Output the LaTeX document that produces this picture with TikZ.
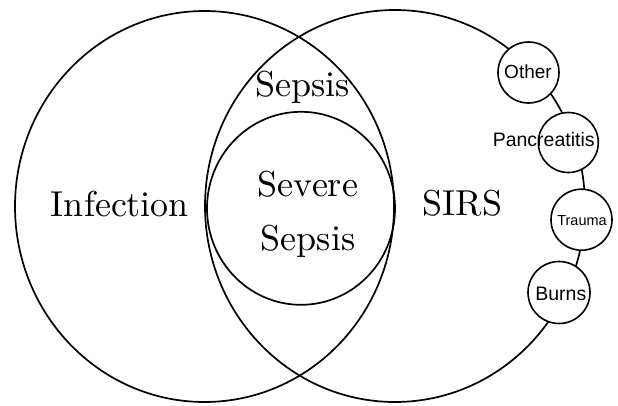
\documentclass[tikz,border=0pt]{standalone}
\usepackage{fontspec}
\newfontfamily\lsans{Liberation Sans}
\newfontfamily\lmten{lmroman10-regular.otf}
\usetikzlibrary{shapes.geometric}
\begin{document}
\begin{tikzpicture}[x=1pt,y=-1pt,
  bigset/.style={draw, ellipse, line width=1.7pt, inner sep=0pt, outer sep=0pt},
  smallset/.style={draw, circle, fill=white, line width=1.6pt, inner sep=0pt, outer sep=0pt},
  biglabel/.style={anchor=base, inner sep=0pt, font=\lmten\fontsize{36}{53}\selectfont},
  smalllabel/.style={anchor=base, inner sep=0pt}]
\useasboundingbox (0,0) rectangle (618,405);
% big sets
\node[bigset, minimum width=379pt, minimum height=391pt] (infection) at (204.5,206.5) {};
\node[bigset, minimum width=380pt, minimum height=392pt] (sirs) at (395,206) {};
\node[bigset, minimum width=188pt, minimum height=193pt] (severe) at (301,208.3) {};
% small circles on the SIRS boundary
\node[smallset, minimum size=61pt] (other) at (528.5,72.5) {};
\node[smallset, minimum size=60pt] (panc) at (568.3,142.5) {};
\node[smallset, minimum size=61pt] (trauma) at (581.5,219.7) {};
\node[smallset, minimum size=62pt] (burns) at (559,292.5) {};
% labels
\node[biglabel] (tinf) at (120,216.7) {Infection};
\node[biglabel] (tsep) at (302.5,96.7) {Sepsis};
\node[biglabel] (tsev1) at (308,196.7) {Severe};
\node[biglabel] (tsev2) at (308,250) {Sepsis};
\node[biglabel] (tsirs) at (462.5,215) {SIRS};
\node[smalllabel, font=\lsans\fontsize{19}{21}\selectfont] (tother) at (528,78) {Other};
\node[smalllabel, font=\lsans\fontsize{19.5}{21}\selectfont] (tpanc) at (543.7,146.7) {Pancreatitis};
\node[smalllabel, font=\lsans\fontsize{14.5}{16}\selectfont] (ttrauma) at (582,225.7) {Trauma};
\node[smalllabel, font=\lsans\fontsize{19.5}{21}\selectfont] (tburns) at (560.8,300) {Burns};
\end{tikzpicture}
\end{document}
